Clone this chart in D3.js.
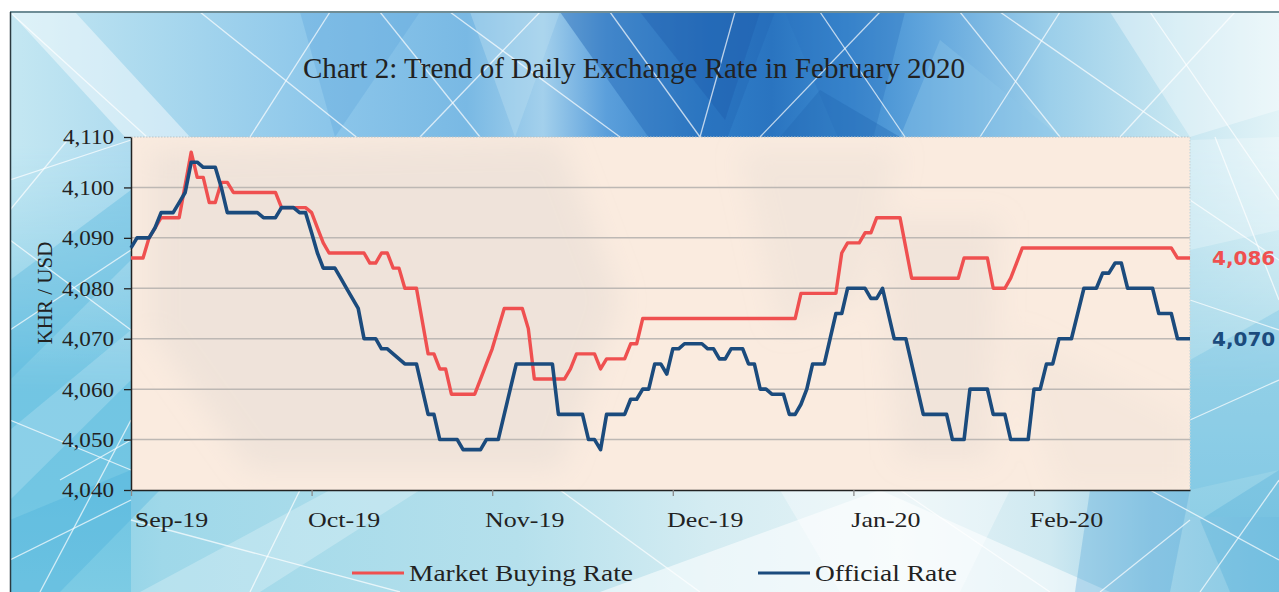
<!DOCTYPE html>
<html><head><meta charset="utf-8">
<script src="https://cdn.jsdelivr.net/npm/d3@7"></script>
<style>html,body{margin:0;padding:0;background:#fff;overflow:hidden}</style>
</head><body><svg id="c" width="1279" height="592"></svg>
<script>
// ---------------- DATA ----------------
const chartTitle = "Chart 2: Trend of Daily Exchange Rate in February 2020";
const yAxisTitle = "KHR / USD";
const monthStarts = ["2019-09-01","2019-10-01","2019-11-01","2019-12-01","2020-01-01","2020-02-01"];
const monthLabels = ["Sep-19","Oct-19","Nov-19","Dec-19","Jan-20","Feb-20"];
const axisEnd = "2020-02-26";
const yTicks = [4040,4050,4060,4070,4080,4090,4100,4110];
const seriesNames = ["Market Buying Rate","Official Rate"];

const marketDates = ["2019-09-01","2019-09-03","2019-09-04","2019-09-05","2019-09-06","2019-09-09","2019-09-11","2019-09-12","2019-09-13","2019-09-14","2019-09-15","2019-09-16","2019-09-17","2019-09-18","2019-09-25","2019-09-26","2019-09-30",
"2019-10-01","2019-10-02","2019-10-03","2019-10-04","2019-10-10","2019-10-11","2019-10-12","2019-10-13","2019-10-14","2019-10-15","2019-10-16","2019-10-17","2019-10-19","2019-10-21","2019-10-22","2019-10-23","2019-10-24","2019-10-25","2019-10-29","2019-10-30","2019-10-31",
"2019-11-01","2019-11-02","2019-11-03","2019-11-06","2019-11-07","2019-11-08","2019-11-13","2019-11-14","2019-11-15","2019-11-18","2019-11-19","2019-11-20","2019-11-23","2019-11-24","2019-11-25","2019-11-26",
"2019-12-22","2019-12-23","2019-12-29","2019-12-30","2019-12-31",
"2020-01-02","2020-01-03","2020-01-04","2020-01-05","2020-01-09","2020-01-10","2020-01-11","2020-01-19","2020-01-20","2020-01-24","2020-01-25","2020-01-27","2020-01-28","2020-01-29","2020-01-30",
"2020-02-23","2020-02-24","2020-02-26"];
const marketValues = [4086,4086,4090,4092,4094,4094,4107,4102,4102,4097,4097,4101,4101,4099,4099,4096,4096,
4095,4092,4089,4087,4087,4085,4085,4087,4087,4084,4084,4080,4080,4067,4067,4064,4064,4059,4059,4062,4065,
4068,4072,4076,4076,4072,4062,4062,4064,4067,4067,4064,4066,4066,4069,4069,4074,
4074,4079,4079,4087,4089,
4089,4091,4091,4094,4094,4088,4082,4082,4086,4086,4080,4080,4082,4085,4088,
4088,4086,4086];

const officialDates = ["2019-09-01","2019-09-02","2019-09-04","2019-09-05","2019-09-06","2019-09-08","2019-09-09","2019-09-10","2019-09-11","2019-09-12","2019-09-13","2019-09-15","2019-09-16","2019-09-17","2019-09-22","2019-09-23","2019-09-25","2019-09-26","2019-09-28","2019-09-29","2019-09-30",
"2019-10-01","2019-10-02","2019-10-03","2019-10-05","2019-10-06","2019-10-07","2019-10-08","2019-10-09","2019-10-10","2019-10-12","2019-10-13","2019-10-14","2019-10-17","2019-10-19","2019-10-21","2019-10-22","2019-10-23","2019-10-26","2019-10-27","2019-10-30","2019-10-31",
"2019-11-02","2019-11-05","2019-11-11","2019-11-12","2019-11-16","2019-11-17","2019-11-18","2019-11-19","2019-11-20","2019-11-23","2019-11-24","2019-11-25","2019-11-26","2019-11-27","2019-11-28","2019-11-29","2019-11-30",
"2019-12-01","2019-12-02","2019-12-03","2019-12-06","2019-12-07","2019-12-08","2019-12-09","2019-12-10","2019-12-11","2019-12-13","2019-12-14","2019-12-15","2019-12-16","2019-12-17","2019-12-18","2019-12-20","2019-12-21","2019-12-22","2019-12-23","2019-12-24","2019-12-25","2019-12-27","2019-12-29","2019-12-30","2019-12-31",
"2020-01-03","2020-01-04","2020-01-05","2020-01-06","2020-01-08","2020-01-10","2020-01-13","2020-01-17","2020-01-18","2020-01-20","2020-01-21","2020-01-24","2020-01-25","2020-01-27","2020-01-28","2020-01-31",
"2020-02-01","2020-02-02","2020-02-03","2020-02-04","2020-02-05","2020-02-07","2020-02-09","2020-02-11","2020-02-12","2020-02-13","2020-02-14","2020-02-15","2020-02-16","2020-02-20","2020-02-21","2020-02-23","2020-02-24","2020-02-26"];
const officialValues = [4088,4090,4090,4092,4095,4095,4097,4099,4105,4105,4104,4104,4100,4095,4095,4094,4094,4096,4096,4095,4095,
4091,4087,4084,4084,4082,4080,4078,4076,4070,4070,4068,4068,4065,4065,4055,4055,4050,4050,4048,4048,4050,
4050,4065,4065,4055,4055,4050,4050,4048,4055,4055,4058,4058,4060,4060,4065,4065,4063,
4068,4068,4069,4069,4068,4068,4066,4066,4068,4068,4065,4065,4060,4060,4059,4059,4055,4055,4057,4060,4065,4065,4075,4075,4080,
4080,4078,4078,4080,4070,4070,4055,4055,4050,4050,4060,4060,4055,4055,4050,4050,
4060,4060,4065,4065,4070,4070,4080,4080,4083,4083,4085,4085,4080,4080,4075,4075,4070,4070];

const marketColor = "#EF5050";
const officialColor = "#1B4B7D";

// ---------------- SETUP ----------------
const parse = d3.timeParse("%Y-%m-%d");
const fmt = d3.format(",");
const SERIF = "'Liberation Serif','Times New Roman',serif";
const svg = d3.select("#c");
const P = {left:131, top:137, right:1190, bottom:490};
const monthW = 180.6;

const x = d3.scaleTime()
  .domain(monthStarts.map(parse).concat([parse(axisEnd)]))
  .range(monthStarts.map((d,i)=>P.left + i*monthW).concat([P.right]));
const y = d3.scaleLinear().domain([d3.min(yTicks), d3.max(yTicks)]).range([P.bottom, P.top]);

function stretch(sel, k){
  sel.each(function(){
    const w = this.getComputedTextLength();
    d3.select(this).attr("textLength", w*k).attr("lengthAdjust","spacingAndGlyphs");
  });
}

// ---------------- BACKGROUND ----------------
const defs = svg.append("defs");
defs.append("clipPath").attr("id","frameClip").append("rect")
  .attr("x",10).attr("y",12).attr("width",1269).attr("height",580);
defs.append("clipPath").attr("id","plotClip").append("rect")
  .attr("x",P.left).attr("y",P.top).attr("width",P.right-P.left).attr("height",P.bottom-P.top);
defs.append("filter").attr("id","soft").attr("x","-20%").attr("y","-20%").attr("width","140%").attr("height","140%")
  .append("feGaussianBlur").attr("stdDeviation",14);

function linGrad(id, x1,y1,x2,y2, stops){
  const g = defs.append("linearGradient").attr("id",id)
    .attr("x1",x1).attr("y1",y1).attr("x2",x2).attr("y2",y2);
  stops.forEach(s=>g.append("stop").attr("offset",s[0]).attr("stop-color",s[1]).attr("stop-opacity", s[2]==null?1:s[2]));
}
linGrad("topG",0,0,1,0,[[0,"#c4e7f2"],[0.12,"#a9d8ee"],[0.25,"#8cc6ea"],[0.36,"#79b9e4"],[0.42,"#a3d0ec"],[0.47,"#5b9fdb"],[0.55,"#2f7ec8"],[0.6,"#2a74c0"],[0.66,"#3d8bd0"],[0.72,"#5fa4dc"],[0.82,"#9ccfea"],[0.92,"#c6e6f1"],[1,"#e2f3f7"]]);
linGrad("fadeG",0,0,0,1,[[0,"#fff",1],[0.35,"#fff",1],[1,"#fff",0]]);
linGrad("botG",0,0,1,0,[[0,"#7ccbe4"],[0.12,"#9fd8e9"],[0.4,"#b5e0ec"],[0.55,"#d4ecf2"],[0.7,"#e6f3f6"],[0.82,"#cfe9f1"],[0.9,"#9fd2e8"],[1,"#86c9e4"]]);
linGrad("leftG",0,0,0,1,[[0,"#9ad6ea"],[0.5,"#72c5e3"],[0.8,"#72c6e3"],[1,"#7ccbe4"]]);
linGrad("rightG",0,0,0,1,[[0,"#bfe4ef"],[0.6,"#a4d8ea"],[1,"#8fcfe6"]]);

const mask = defs.append("mask").attr("id","fadeM");
mask.append("rect").attr("x",0).attr("y",12).attr("width",1279).attr("height",380).attr("fill","url(#fadeG)");

const bg = svg.append("g").attr("clip-path","url(#frameClip)");
bg.append("rect").attr("x",10).attr("y",12).attr("width",1269).attr("height",580).attr("fill","url(#botG)");
bg.append("rect").attr("x",10).attr("y",137).attr("width",121).attr("height",455).attr("fill","url(#leftG)");
bg.append("rect").attr("x",1190).attr("y",137).attr("width",89).attr("height",380).attr("fill","url(#rightG)");
bg.append("rect").attr("x",10).attr("y",12).attr("width",1269).attr("height",380).attr("fill","url(#topG)").attr("mask","url(#fadeM)");

const facets = [
  {p:[[560,12],[775,12],[700,210]], f:"#2369b6", o:0.45},
  {p:[[640,12],[760,12],[725,120]], f:"#1c5aa8", o:0.35},
  {p:[[785,12],[905,12],[860,190]], f:"#2a74bf", o:0.35},
  {p:[[820,90],[900,137],[780,137]], f:"#2468b4", o:0.4},
  {p:[[470,12],[560,12],[515,137]], f:"#b5dbf0", o:0.45},
  {p:[[10,12],[75,12],[190,137],[125,137]], f:"#ffffff", o:0.45},
  {p:[[1110,12],[1279,12],[1279,110],[1190,137]], f:"#ffffff", o:0.35},
  {p:[[300,12],[420,12],[335,137]], f:"#5ea6dc", o:0.35},
  {p:[[940,40],[1060,137],[900,137]], f:"#8cc6e8", o:0.4},
  {p:[[10,280],[131,190],[131,260],[10,380]], f:"#4fb4dc", o:0.35},
  {p:[[10,430],[131,330],[131,380],[10,500]], f:"#ffffff", o:0.18},
  {p:[[10,520],[131,470],[160,490],[60,592],[10,592]], f:"#42acd9", o:0.3},
  {p:[[600,592],[880,490],[1110,592]], f:"#ffffff", o:0.55},
  {p:[[780,490],[1010,490],[960,592],[840,592]], f:"#ffffff", o:0.35},
  {p:[[1090,490],[1190,490],[1170,592],[1075,592]], f:"#5aa9db", o:0.35},
  {p:[[1200,520],[1279,470],[1279,592],[1230,592]], f:"#4aa8d8", o:0.3},
  {p:[[1190,360],[1279,310],[1279,470],[1190,490]], f:"#6bbde0", o:0.3},
  {p:[[1190,140],[1279,137],[1279,230],[1190,250]], f:"#ffffff", o:0.25},
  {p:[[140,592],[330,490],[420,490],[260,592]], f:"#ffffff", o:0.25}
];
bg.selectAll("polygon.facet").data(facets).join("polygon").attr("class","facet")
  .attr("points", d=>d.p.map(q=>q.join(",")).join(" "))
  .attr("fill", d=>d.f).attr("fill-opacity", d=>d.o);

const wlines = [
  [[12,14],[260,240]],[[200,12],[560,300]],[[330,12],[250,137]],[[450,12],[620,137]],[[540,12],[420,137]],
  [[610,12],[700,137]],[[735,12],[700,137]],[[820,12],[905,137]],[[880,12],[760,137]],[[960,12],[1060,137]],
  [[1060,12],[980,137]],[[1150,12],[1279,200]],[[1235,12],[1120,137]],[[10,180],[131,140]],[[10,240],[131,330]],
  [[10,420],[131,470]],[[40,592],[131,420]],[[60,480],[131,440]],[[131,520],[400,592]],[[300,490],[250,592]],
  [[900,490],[1050,592]],[[1190,200],[1279,260]],[[1190,420],[1279,380]],[[1215,137],[1279,300]],[[1150,490],[1279,560]],
  [[1200,592],[1279,480]],[[10,330],[131,250]],[[70,137],[10,210]],[[10,560],[131,500]],[[560,490],[700,592]],
  [[1000,12],[1180,137]],[[380,12],[480,137]],[[1190,300],[1279,330]],[[1100,592],[1190,520]]
];
bg.selectAll("line.w").data(wlines).join("line").attr("class","w")
  .attr("x1",d=>d[0][0]).attr("y1",d=>d[0][1]).attr("x2",d=>d[1][0]).attr("y2",d=>d[1][1])
  .attr("stroke","#ffffff").attr("stroke-opacity",0.7).attr("stroke-width",1.3);

// frame
svg.append("line").attr("x1",10).attr("x2",1279).attr("y1",12).attr("y2",12).attr("stroke","#6f8d96").attr("stroke-width",2);
svg.append("line").attr("x1",10.5).attr("x2",10.5).attr("y1",12).attr("y2",592).attr("stroke","#2b3a40").attr("stroke-width",1.5);

// ---------------- PLOT AREA ----------------
svg.append("rect").attr("x",P.left).attr("y",P.top).attr("width",P.right-P.left).attr("height",P.bottom-P.top).attr("fill","#FAEBDF");
const tex = svg.append("g").attr("clip-path","url(#plotClip)");
const texShapes = [
  {p:[[150,150],[560,140],[620,300],[560,470],[250,470],[150,330]], o:0.3},
  {p:[[740,150],[900,150],[860,300],[780,330]], o:0.22},
  {p:[[880,220],[1000,220],[990,460],[900,460]], o:0.25},
  {p:[[1010,330],[1190,420],[1190,490],[1060,490]], o:0.15}
];
tex.append("g").attr("filter","url(#soft)").selectAll("polygon").data(texShapes).join("polygon")
  .attr("points", d=>d.p.map(q=>q.join(",")).join(" "))
  .attr("fill","#d8d0cc").attr("fill-opacity", d=>d.o);

// gridlines
svg.append("g").selectAll("line").data(yTicks.filter(v=>v!==d3.min(yTicks) && v!==d3.max(yTicks))).join("line")
  .attr("x1",P.left).attr("x2",P.right).attr("y1",d=>y(d)).attr("y2",d=>y(d))
  .attr("stroke","#bdb8b4").attr("stroke-width",1.5);
// top & right dotted borders
svg.append("line").attr("x1",P.left).attr("x2",P.right).attr("y1",P.top).attr("y2",P.top)
  .attr("stroke","#b9c3c8").attr("stroke-width",1.2).attr("stroke-dasharray","1.5,1.5");
svg.append("line").attr("x1",P.right).attr("x2",P.right).attr("y1",P.top).attr("y2",P.bottom)
  .attr("stroke","#c9d6db").attr("stroke-width",1.2).attr("stroke-dasharray","1.5,1.5");

// ---------------- AXES ----------------
const yAxis = svg.append("g").attr("transform",`translate(${P.left},0)`)
  .call(d3.axisLeft(y).tickValues(yTicks).tickFormat(fmt).tickSize(7).tickSizeOuter(0));
yAxis.select(".domain").attr("stroke","#222").attr("stroke-width",1.5);
yAxis.selectAll(".tick line").attr("stroke","#222").attr("stroke-width",1.3);
yAxis.selectAll(".tick text").attr("font-family",SERIF)
  .attr("font-size",21).attr("fill","#222").attr("x",-17).attr("dy","0.33em");
stretch(yAxis.selectAll(".tick text"), 1.1);

const xAxis = svg.append("g").attr("transform",`translate(0,${P.bottom})`)
  .call(d3.axisBottom(x).tickValues(monthStarts.map(parse)).tickFormat((d,i)=>monthLabels[i]).tickSize(6).tickSizeOuter(0));
xAxis.select(".domain").attr("stroke","#222").attr("stroke-width",1.5);
xAxis.selectAll(".tick line").attr("stroke","#8a8a8a").attr("stroke-width",1.3);
xAxis.selectAll(".tick text").attr("font-family",SERIF)
  .attr("font-size",22).attr("fill","#222").attr("x",(d,i)=> i===0 ? 40 : 32).attr("y",21).attr("dy","0.71em");
stretch(xAxis.selectAll(".tick text"), 1.18);

svg.append("text").attr("transform","translate(52,293) rotate(-90)").attr("text-anchor","middle")
  .attr("font-family",SERIF).attr("font-size",21).attr("fill","#222")
  .text(yAxisTitle);

// ---------------- SERIES ----------------
const market = marketDates.map((d,i)=>({date:parse(d), value:marketValues[i]}));
const official = officialDates.map((d,i)=>({date:parse(d), value:officialValues[i]}));
const line = d3.line().x(d=>x(d.date)).y(d=>y(d.value));
svg.append("path").datum(market).attr("d",line).attr("fill","none").attr("stroke",marketColor)
  .attr("stroke-width",3.4).attr("stroke-linejoin","round");
svg.append("path").datum(official).attr("d",line).attr("fill","none").attr("stroke",officialColor)
  .attr("stroke-width",3.6).attr("stroke-linejoin","round");

// end labels
[[market, marketColor],[official, officialColor]].forEach(([s,c])=>{
  const last = s[s.length-1];
  svg.append("text").attr("x",P.right+22).attr("y",y(last.value)).attr("dy","0.36em")
    .attr("font-family","'DejaVu Sans',Verdana,sans-serif").attr("font-weight","bold")
    .attr("font-size",20).attr("fill",c).text(fmt(last.value));
});

// ---------------- TITLE ----------------
svg.append("text").attr("x",634).attr("y",78).attr("text-anchor","middle")
  .attr("font-family",SERIF).attr("font-size",29).attr("fill","#222")
  .attr("textLength",662).attr("lengthAdjust","spacingAndGlyphs")
  .text(chartTitle);

// ---------------- LEGEND ----------------
const legendItems = [
  {name:seriesNames[0], color:marketColor, x:352, w:224},
  {name:seriesNames[1], color:officialColor, x:758, w:142}
];
const lg = svg.append("g").selectAll("g").data(legendItems).join("g")
  .attr("transform", d=>`translate(${d.x},573)`);
lg.append("line").attr("x1",0).attr("x2",52).attr("y1",0).attr("y2",0)
  .attr("stroke",d=>d.color).attr("stroke-width",3.2);
lg.append("text").attr("x",57).attr("y",8)
  .attr("font-family",SERIF).attr("font-size",24).attr("fill","#222")
  .attr("textLength",d=>d.w).attr("lengthAdjust","spacingAndGlyphs")
  .text(d=>d.name);
</script>
</body></html>
